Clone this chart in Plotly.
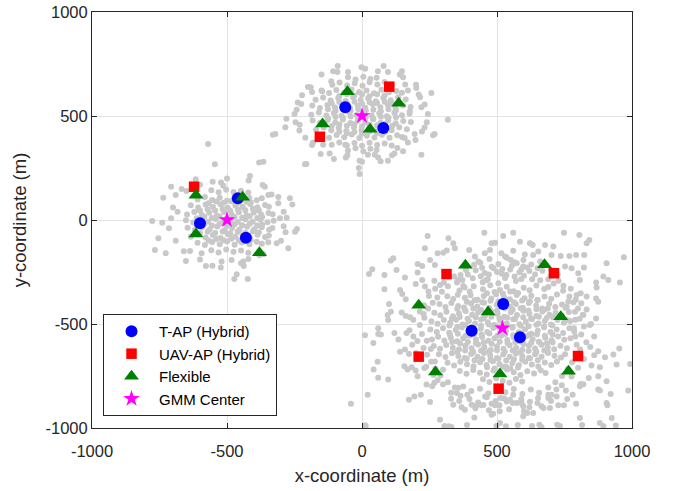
import plotly.graph_objects as go

# ---------------- data (metres) ----------------
# users around GMM component 1 (centre -500, 0)
users_c1 = [
    (-558,143),(-531,133),(-503,146),(-476,135),(-448,141),(-421,132),
    (-609,99),(-582,110),(-555,96),(-527,107),(-500,93),(-472,109),(-445,98),(-417,106),(-390,95),(-371,104),
    (-634,71),(-607,60),(-579,74),(-552,62),(-524,76),(-497,59),(-469,70),(-442,63),(-414,77),(-387,61),(-359,72),(-345,64),
    (-648,27),(-621,38),(-593,24),(-566,35),(-538,21),(-511,39),(-483,26),(-456,37),(-428,23),(-401,36),(-373,25),(-346,34),(-331,28),
    (-652,-1),(-625,-12),(-597,2),(-570,-9),(-542,5),(-515,-13),(-487,-2),(-460,-10),(-432,4),(-405,-8),(-377,3),(-350,-11),(-327,-4),
    (-646,-37),(-619,-48),(-591,-34),(-564,-45),(-536,-31),(-509,-49),(-481,-38),(-454,-46),(-426,-32),(-399,-44),(-371,-35),(-344,-47),(-332,-39),
    (-634,-81),(-607,-70),(-579,-84),(-552,-72),(-524,-86),(-497,-69),(-469,-80),(-442,-73),(-414,-87),(-387,-71),(-359,-82),(-345,-75),
    (-609,-109),(-582,-120),(-555,-106),(-527,-117),(-500,-103),(-472,-119),(-445,-108),(-417,-116),(-390,-105),(-371,-114),
    (-558,-145),(-531,-156),(-503,-142),(-476,-153),(-448,-147),(-421,-158),
    (-568,81),(-540,89),(-512,83),(-484,90),(-456,82),(-428,88),(-412,84),
    (-600,45),(-572,52),(-544,46),(-516,53),(-488,44),(-460,51),(-432,47),(-404,54),(-382,46),
    (-612,9),(-584,16),(-556,10),(-528,17),(-500,8),(-472,15),(-444,11),(-416,18),(-388,10),(-370,14),
    (-612,-27),(-584,-20),(-556,-26),(-528,-19),(-500,-28),(-472,-21),(-444,-25),(-416,-18),(-388,-27),(-370,-22),
    (-600,-63),(-572,-56),(-544,-62),(-516,-55),(-488,-64),(-460,-57),(-432,-61),(-404,-54),(-382,-60),
    (-568,-99),(-540,-91),(-512,-97),(-484,-90),(-456,-98),(-428,-92),(-412,-96),
    (-690,120),(-700,60),(-715,-40),(-690,-100),(-660,-150),(-600,-190),(-520,-200),(-440,-200),(-380,-170),
    (-300,-100),(-290,-30),(-290,40),(-310,110),(-360,160),(-420,190),(-500,200),(-600,170),(-650,140),
    (-570,365),(-545,268),(-381,277),(-365,280),(-211,268),(-415,212),(-616,196),(-707,160),(-668,149),
    (-553,184),(-522,180),(-514,165),(-368,168),(-335,123),(-347,120),(-736,107),(-267,104),(-258,75),
    (-310,80),(-683,40),(-777,-5),(-740,-13),(-707,8),(-279,11),(-304,8),(-248,-56),(-241,-43),(-283,-59),
    (-754,-88),(-767,-144),(-727,-160),(-273,-136),(-347,-107),(-316,-112),(-652,-197),(-578,-221),(-554,-220),
    (-523,-228),(-483,-192),(-448,-208),(-438,-221),(-464,-261),(-473,-284),(-423,-284),(-637,-149),(-594,-160),
    (-421,-188),(-365,-165),(-330,410),
]

# users around GMM component 2 (centre 0, 500)
users_c2 = [
    (-52,686),(-24,675),(5,689),(31,678),(54,684),
    (-110,650),(-83,661),(-55,647),(-27,658),(2,645),(28,662),(57,651),(84,663),(111,648),
    (-150,622),(-122,611),(-95,625),(-66,613),(-39,627),(-11,615),(17,623),(44,609),(72,626),(100,614),(127,620),(148,612),
    (-172,578),(-144,589),(-116,575),(-88,586),(-60,572),(-33,590),(-5,577),(23,585),(51,571),(79,588),(106,576),(134,590),(162,579),
    (-184,550),(-156,539),(-128,553),(-100,541),(-72,555),(-44,537),(-16,549),(12,540),(40,556),(68,542),(96,553),(124,538),(152,551),(180,543),
    (-188,506),(-160,517),(-132,503),(-104,514),(-76,501),(-48,518),(-20,505),(8,516),(36,502),(64,513),(92,499),(120,516),(148,504),(176,512),
    (-183,478),(-155,467),(-127,481),(-99,469),(-71,483),(-43,466),(-15,477),(13,470),(41,484),(69,468),(97,480),(125,465),(153,476),(181,471),
    (-170,434),(-142,445),(-114,431),(-86,442),(-58,428),(-30,446),(-2,433),(26,441),(54,427),(82,444),(110,432),(138,446),(166,436),
    (-150,406),(-122,395),(-94,409),(-66,398),(-38,411),(-10,394),(18,405),(46,397),(74,410),(102,396),(130,408),(148,399),
    (-112,362),(-84,373),(-56,359),(-28,370),(0,357),(28,371),(56,360),(84,368),(110,358),
    (-52,334),(-24,345),(5,331),(31,342),(54,336),
    (-84,596),(-56,604),(-28,598),(0,603),(28,595),(56,605),(84,599),
    (-112,560),(-84,567),(-56,561),(-28,569),(0,559),(28,566),(56,562),(84,568),(112,560),
    (-126,532),(-98,524),(-70,531),(-42,525),(-14,533),(14,526),(42,530),(70,523),(98,532),(126,527),
    (-126,488),(-98,495),(-70,490),(-42,497),(-14,489),(14,494),(42,487),(70,496),(98,491),(126,494),
    (-112,452),(-84,459),(-56,453),(-28,460),(0,451),(28,458),(56,455),(84,461),(112,453),
    (-84,424),(-56,417),(-28,423),(0,416),(28,425),(56,418),(84,422),
    (-222,600),(-238,565),(-250,510),(-246,470),(-232,430),(-210,395),(-185,360),(215,590),(232,555),(244,510),
    (240,470),(222,425),(198,385),(-150,700),(-90,740),(80,740),(140,700),(-60,300),(60,300),(0,280),
    (-120,320),(120,320),(-200,640),(200,650),
    (-2,734),(12,727),(-107,715),(-91,711),(-52,711),(59,715),(96,711),(148,715),(152,686),(-114,667),
    (-190,638),(-185,615),(-147,619),(160,651),(170,622),(201,635),(210,603),(257,610),(-225,558),(-242,530),
    (220,542),(177,522),(-280,487),(-284,446),(-321,413),(-231,458),(318,482),(232,445),(269,413),(263,407),
    (195,413),(158,394),(170,373),(-181,373),(-144,362),(-153,317),(-206,269),(-104,293),(-54,311),(-9,285),
    (-12,250),(-9,221),(22,314),(47,314),(69,282),(96,285),(131,346),(152,330),(220,314),(111,311),(-62,362),
]

# users around GMM component 3 (centre 520, -520)
users_c3 = [
    (447,-299),(466,-285),(505,-304),(530,-279),(570,-293),(590,-284),
    (361,-339),(380,-325),(399,-344),(414,-319),(448,-333),(475,-314),(511,-337),(536,-321),(562,-343),(599,-326),
    (621,-338),(646,-315),(675,-332),(690,-322),
    (316,-366),(338,-380),(355,-359),(381,-374),(402,-362),(428,-383),(451,-365),(479,-377),(497,-357),(526,-372),
    (548,-381),(573,-361),(602,-376),(627,-364),(649,-385),(676,-368),(701,-379),(722,-358),
    (287,-404),(309,-418),(331,-399),(356,-413),(378,-421),(404,-402),(427,-416),(452,-398),(471,-423),(499,-408),
    (521,-395),(548,-417),(570,-404),(596,-422),(618,-399),(645,-411),(667,-425),(693,-403),(716,-418),(741,-406),(754,-422),
    (268,-446),(290,-458),(313,-441),(337,-463),(359,-449),(384,-437),(408,-456),(430,-444),(455,-461),(478,-439),
    (502,-452),(527,-465),(551,-443),(574,-457),(598,-436),(620,-451),(646,-462),(668,-440),(694,-455),(717,-447),(742,-460),(766,-442),
    (257,-487),(280,-499),(303,-481),(327,-494),(349,-479),(372,-503),(396,-486),(419,-497),(441,-478),(466,-492),
    (489,-505),(513,-484),(536,-496),(560,-477),(583,-501),(607,-489),(630,-476),(654,-498),(677,-485),(700,-503),
    (724,-481),(748,-494),(771,-486),
    (253,-526),(277,-538),(300,-521),(323,-542),(347,-529),(370,-517),(394,-535),(417,-544),(440,-523),(464,-538),
    (486,-519),(510,-546),(533,-531),(557,-518),(580,-540),(604,-525),(627,-547),(651,-533),(674,-516),(698,-539),
    (721,-527),(745,-543),(768,-520),(786,-536),
    (259,-574),(282,-561),(305,-579),(329,-566),(352,-583),(375,-569),(398,-557),(422,-575),(445,-563),(468,-581),
    (491,-568),(515,-556),(538,-577),(562,-564),(585,-582),(608,-559),(632,-573),(655,-585),(679,-566),(702,-578),
    (726,-560),(749,-576),(772,-568),
    (266,-606),(289,-619),(312,-601),(336,-614),(359,-623),(383,-604),(406,-617),(430,-599),(453,-612),(477,-625),
    (500,-607),(524,-619),(547,-602),(571,-615),(594,-624),(618,-605),(641,-618),(665,-600),(688,-613),(712,-621),
    (735,-604),(759,-616),
    (285,-646),(309,-659),(333,-641),(357,-654),(380,-663),(404,-644),(428,-657),(452,-639),(475,-652),(499,-665),
    (523,-647),(547,-658),(570,-642),(594,-655),(618,-664),(641,-645),(665,-657),(689,-640),(713,-653),(737,-661),(752,-645),
    (317,-686),(341,-699),(364,-681),(389,-694),(413,-703),(437,-684),(461,-697),(485,-679),(509,-692),(533,-705),
    (557,-687),(581,-698),(605,-682),(629,-695),(653,-704),(677,-685),(701,-697),(722,-680),
    (362,-726),(387,-739),(412,-721),(437,-734),(462,-743),(487,-724),(512,-737),(537,-719),(562,-732),(587,-745),
    (612,-727),(637,-738),(662,-722),(680,-735),
    (448,-766),(472,-779),(497,-761),(521,-774),(546,-783),(570,-764),(593,-777),
    (463,-352),(491,-346),(522,-355),(549,-344),(578,-351),
    (388,-393),(417,-386),(446,-395),(476,-388),(505,-392),(534,-384),(563,-396),(593,-387),(622,-391),(651,-385),
    (353,-427),(382,-434),(412,-425),(441,-433),(470,-428),(500,-436),(529,-426),(558,-432),(588,-424),(617,-435),
    (646,-429),(675,-431),(688,-426),
    (333,-473),(362,-466),(391,-475),(421,-468),(450,-472),(479,-465),(509,-474),(538,-469),(567,-476),(597,-467),
    (626,-473),(655,-465),(684,-471),(707,-468),
    (324,-507),(353,-513),(382,-505),(412,-514),(441,-509),(470,-503),(500,-512),(529,-506),(558,-515),(588,-508),
    (617,-511),(646,-504),(675,-513),(705,-507),
    (326,-553),(355,-547),(384,-556),(414,-549),(443,-552),(472,-546),(502,-555),(531,-548),(560,-554),(590,-545),
    (619,-552),(648,-549),(677,-556),(706,-551),
    (334,-587),(363,-594),(392,-586),(422,-592),(451,-589),(480,-595),(510,-585),(539,-591),(568,-588),(598,-596),
    (627,-590),(656,-586),(685,-593),(706,-589),
    (353,-633),(382,-627),(412,-635),(441,-629),(470,-632),(500,-626),(529,-634),(558,-628),(588,-636),(617,-630),
    (646,-633),(675,-627),(688,-634),
    (388,-667),(417,-674),(446,-668),(476,-673),(505,-666),(534,-675),(563,-669),(593,-672),(622,-665),(651,-674),
    (463,-708),(491,-714),(522,-706),(549,-713),(578,-709),
    (392,-262),(421,-241),(455,-255),(487,-232),(518,-259),(549,-238),(583,-251),(612,-228),(641,-262),(668,-244),
    (699,-268),(438,-205),(472,-188),(505,-212),(536,-181),(566,-203),(598,-192),(627,-214),(660,-199),(516,-160),
    (560,-148),(603,-166),(455,-160),(372,-289),(728,-292),(352,-300),(746,-316),
    (410,-280),(440,-270),(470,-262),(500,-250),(535,-265),(565,-272),(600,-268),(630,-285),(660,-290),(690,-285),
    (480,-225),(520,-235),(555,-220),(590,-238),(620,-245),(650,-232),(445,-230),(415,-215),(385,-240),(365,-265),
    (340,-270),(700,-240),(725,-262),(680,-215),(460,-290),
    (318,-318),(296,-345),(279,-372),(262,-398),(245,-425),(228,-452),(303,-300),(271,-330),(248,-365),(230,-410),(214,-440),
    (710,-305),(745,-340),(768,-368),(783,-395),(800,-425),(818,-455),(773,-330),(795,-360),(812,-400),(832,-430),
    (231,-470),(214,-505),(222,-548),(205,-582),(228,-615),(190,-480),(176,-530),(186,-600),
    (806,-475),(822,-512),(812,-550),(831,-588),(808,-622),(848,-500),(860,-560),(845,-610),
    (241,-648),(256,-682),(272,-715),(291,-748),(318,-780),(344,-805),(212,-660),(238,-705),(265,-745),
    (793,-650),(778,-684),(762,-716),(741,-750),(716,-780),(690,-805),(822,-668),(800,-710),(776,-752),
    (375,-800),(405,-822),(437,-811),(468,-834),(499,-806),(531,-828),(562,-812),(594,-837),(625,-815),(656,-830),
    (398,-860),(430,-878),(462,-852),(495,-870),(527,-858),(558,-880),(590,-862),(622,-874),(652,-856),(420,-905),
    (470,-915),(545,-910),(600,-920),(365,-845),(690,-840),
    (300,-790),(330,-830),(360,-870),(390,-840),(450,-890),(510,-920),(560,-840),(620,-900),(650,-880),(700,-870),
    (720,-815),(740,-795),(760,-860),(780,-840),(300,-720),(280,-770),(270,-680),(255,-620),(240,-580),(795,-600),
    (790,-560),(785,-520),(790,-480),(200,-640),(190,-560),(860,-650),(850,-700),(840,-760),(820,-790),
    (243,-77),(320,-88),(338,-112),(344,-136),(397,-144),(453,-61),(233,-136),(280,-160),(301,-157),(314,-147),
    (252,-192),(116,-184),(107,-195),(206,-211),(223,-221),(270,-216),(26,-260),(38,-237),(83,-264),(128,-240),
    (159,-276),(206,-253),(199,-308),(233,-320),(223,-288),(83,-333),(141,-336),(149,-356),(162,-381),(246,-344),
    (268,-292),(289,-312),(100,-404),(107,-441),(95,-457),(147,-445),(162,-461),(60,-521),(97,-481),(178,-468),
    (354,-288),(375,-317),(431,-200),(418,-176),(480,-112),(474,-144),
    (523,-77),(560,-61),(585,-104),(622,-112),(632,-120),(678,-120),(709,-128),(748,-61),(805,-72),(842,-96),
    (832,-112),(493,-109),(530,-176),(551,-192),(573,-208),(597,-224),(634,-168),(653,-152),(702,-168),(736,-173),
    (768,-173),(793,-168),(823,-168),(970,-179),(906,-208),(752,-224),(776,-232),(822,-228),(894,-272),(912,-288),
    (955,-301),(867,-301),(869,-324),(801,-256),(807,-288),(810,-352),(832,-368),(867,-377),(875,-393),(792,-384),
    (764,-393),(758,-417),(789,-441),(820,-457),(867,-473),(844,-505),(758,-481),
    (11,-554),(60,-548),(70,-551),(42,-591),(58,-682),(43,-719),(60,-759),(97,-767),(21,-840),(-41,-884),
    (11,-987),(120,-543),(135,-575),(165,-543),(141,-634),(159,-623),(174,-644),(157,-703),(169,-719),(184,-708),
    (199,-724),(231,-711),(206,-751),(239,-791),(260,-799),(268,-783),(174,-864),(194,-848),(218,-840),(252,-875),
    (289,-960),(305,-997),(322,-992),(330,-859),(338,-888),(357,-807),(351,-832),(381,-912),(369,-900),(406,-888),
    (425,-891),(443,-891),(456,-848),(480,-884),(486,-932),(416,-949),
    (875,-631),(900,-660),(931,-647),(953,-618),(943,-695),(993,-692),(881,-708),(875,-751),(906,-775),(875,-815),
    (881,-820),(986,-820),(921,-836),(906,-880),(909,-891),(925,-952),(881,-976),(807,-952),(793,-884),(748,-891),
    (727,-891),(696,-904),(721,-848),(755,-820),(807,-799),(810,-788),(665,-896),(672,-904),(634,-928),(612,-928),
    (597,-944),(657,-984),(723,-984),(548,-864),(573,-880),(514,-856),(536,-872),(509,-891),(511,-976),(480,-936),
    (591,-880),(597,-896),(690,-856),(702,-840),(493,-891),
    (14,-990),(306,-990),(331,-995),(389,-985),(498,-990),(533,-992),(577,-985),(630,-990),(665,-995),(733,-990),
    (815,-985),(894,-990),(940,-988),
]

tap_x = [-600, -460, -430, -62, 79, 523, 406, 585]
tap_y = [-16, 104, -85, 542, 442, -404, -532, -564]

uav_x = [-622, 101, -156, 313, 711, 210, 800, 506]
uav_y = [160, 641, 400, -260, -256, -657, -654, -811]

flex_x = [-615, -442, -615, -380, -54, 136, -146, 30, 383, 676, 210, 467, 736, 272, 511, 765]
flex_y = [119, 109, -67, -157, 617, 561, 462, 436, -218, -215, -410, -442, -465, -731, -740, -727]

center_x = [-500, 0, 520]
center_y = [0, 500, -520]

tick_vals = [-1000, -500, 0, 500, 1000]
tick_text = ["-1000", "-500", "0", "500", "1000"]

legend_names = ["T-AP (Hybrid)", "UAV-AP (Hybrid)", "Flexible", "GMM Center"]

# ---------------- figure ----------------
users = users_c1 + users_c2 + users_c3
ux = [p[0] for p in users]
uy = [p[1] for p in users]

FONT = "Liberation Sans, Arial, Helvetica, sans-serif"
AX = "#262626"

fig = go.Figure()
fig.add_trace(go.Scatter(x=ux, y=uy, mode="markers", showlegend=False,
                         marker=dict(size=6, color="#c8c8c8", line=dict(width=0)),
                         hoverinfo="skip"))
fig.add_trace(go.Scatter(x=tap_x, y=tap_y, mode="markers", name=legend_names[0],
                         marker=dict(symbol="circle", size=12, color="#0000ff", line=dict(width=0))))
fig.add_trace(go.Scatter(x=uav_x, y=uav_y, mode="markers", name=legend_names[1],
                         marker=dict(symbol="square", size=10.5, color="#ff0000", line=dict(width=0))))
fig.add_trace(go.Scatter(x=flex_x, y=flex_y, mode="markers", name=legend_names[2],
                         marker=dict(symbol="triangle-up", size=13, color="#008000", line=dict(width=0))))
fig.add_trace(go.Scatter(x=center_x, y=center_y, mode="markers", name=legend_names[3],
                         marker=dict(symbol="star", size=12.5, color="#ff00ff", line=dict(width=0))))

axis_common = dict(
    range=[-1000, 1000], tickmode="array", tickvals=tick_vals, ticktext=tick_text,
    ticks="inside", ticklen=5, tickwidth=1, tickcolor=AX,
    showline=True, linecolor=AX, linewidth=1, mirror="ticks",
    showgrid=True, gridcolor="#e3e3e3", gridwidth=1, zeroline=False,
    tickfont=dict(family=FONT, size=16.5, color=AX),
    fixedrange=True,
)

fig.update_layout(
    width=673, height=491,
    margin=dict(l=92, r=41, t=12, b=63, autoexpand=False),
    paper_bgcolor="white", plot_bgcolor="white",
    font=dict(family=FONT, color=AX),
    xaxis=dict(axis_common, ticklabelstandoff=8,
               title=dict(text="x-coordinate (m)",
                          font=dict(family=FONT, size=18.5, color=AX), standoff=10)),
    yaxis=dict(axis_common,
               title=dict(text="y-coordinate (m)",
                          font=dict(family=FONT, size=18.5, color=AX), standoff=14)),
    legend=dict(x=0.0204, y=0.029, xanchor="left", yanchor="bottom",
                bgcolor="white", bordercolor=AX, borderwidth=1,
                font=dict(family=FONT, size=15, color="black"),
                itemwidth=45, tracegroupgap=0),
    showlegend=True,
)

fig.write_html("out.html")
